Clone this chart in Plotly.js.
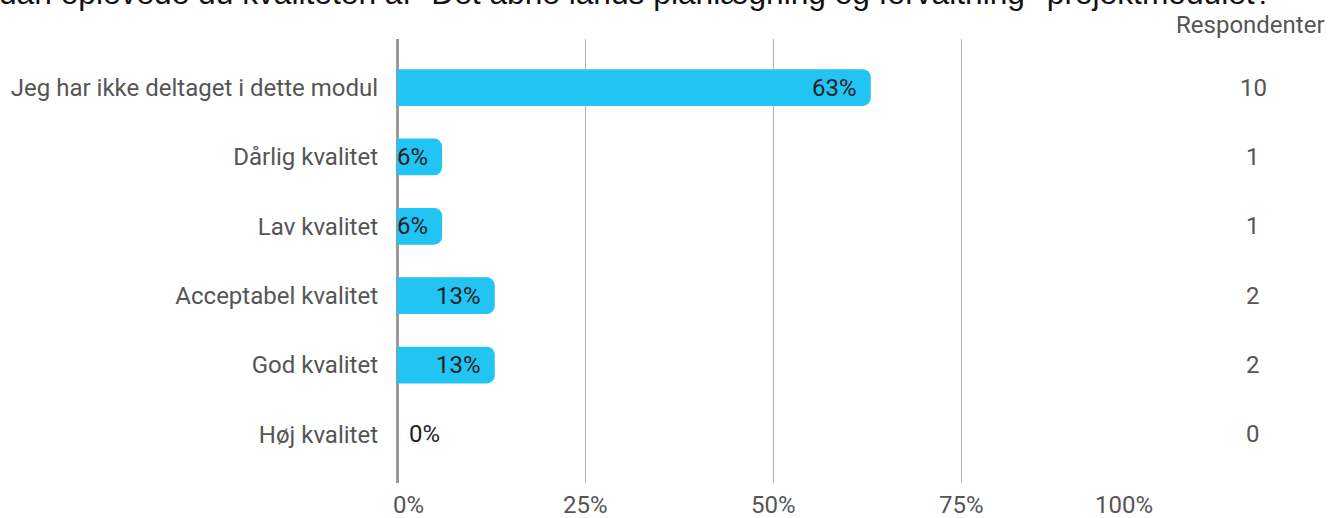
<!DOCTYPE html>
<html>
<head>
<meta charset="utf-8">
<script src="https://cdn.plot.ly/plotly-3.0.1.min.js"></script>
<style>
html,body{margin:0;padding:0;background:#fff;overflow:hidden;}
#chart{width:1329px;height:518px;}
</style>
</head>
<body>
<div id="chart"></div>
<script>
const titleText = 'dan oplevede du kvaliteten af "Det åbne lands planlægning og forvaltning"-projektmodulet?';
const categories = [
  'Jeg har ikke deltaget i dette modul',
  'Dårlig kvalitet',
  'Lav kvalitet',
  'Acceptabel kvalitet',
  'God kvalitet',
  'Høj kvalitet'
];
const percentValues = [63, 6, 6, 13, 13, 0];
const respondents = [10, 1, 1, 2, 2, 0];
const countHeader = 'Respondenter';
const tickValues = [0, 25, 50, 75, 100];
const tickLabels = ['0%', '25%', '50%', '75%', '100%'];

const labelFont = {family: 'Roboto, sans-serif', size: 24, color: '#555555'};
const barTextFont = {family: 'Roboto, sans-serif', size: 24, color: '#222222'};

const annotations = [];

// bar value labels
percentValues.forEach((v, i) => {
  let a = {x: v, y: categories[i], xref: 'x', yref: 'y', text: v + '%', showarrow: false, font: barTextFont, yanchor: 'middle'};
  if (v >= 10) { a.xanchor = 'right'; a.xshift = -12; }
  else if (v > 0) { a.x = 0; a.xanchor = 'left'; a.xshift = -2; }
  else { a.x = 0; a.xanchor = 'left'; a.xshift = 10; }
  annotations.push(a);
});

// respondent counts
respondents.forEach((n, i) => {
  annotations.push({x: 1.1383, y: categories[i], xref: 'paper', yref: 'y', text: String(n), showarrow: false, font: labelFont, xanchor: 'center', yanchor: 'middle'});
});
annotations.push({x: 1.2367, y: 1.031, xref: 'paper', yref: 'paper', text: countHeader, showarrow: false, font: {family: 'Roboto, sans-serif', size: 24, color: '#555555'}, xanchor: 'right', yanchor: 'middle'});

// x tick labels
tickValues.forEach((t, i) => {
  let a = {x: t, y: -0.05, xref: 'x', yref: 'paper', text: tickLabels[i], showarrow: false, font: labelFont, xanchor: 'center', yanchor: 'middle'};
  if (i === 0) { a.xanchor = 'left'; a.xshift = -6; }
  if (i === tickValues.length - 1) { a.xanchor = 'right'; a.xshift = 6; }
  annotations.push(a);
});

// title (clipped at the top-left edge like the reference)
annotations.push({x: -0.532, y: 1.1035, xref: 'paper', yref: 'paper', text: titleText, showarrow: false, font: {family: 'Liberation Sans, Arial, sans-serif', size: 31.7, color: '#111111'}, xanchor: 'left', yanchor: 'middle'});

const trace = {
  type: 'bar',
  orientation: 'h',
  x: percentValues,
  y: categories,
  width: 0.53,
  marker: {color: '#22C4F4', cornerradius: 8},
  hoverinfo: 'none',
  cliponaxis: false
};

const layout = {
  width: 1329,
  height: 518,
  margin: {l: 397, r: 180, t: 39, b: 35, pad: 0},
  paper_bgcolor: '#ffffff',
  plot_bgcolor: '#ffffff',
  showlegend: false,
  xaxis: {
    range: [0, 100],
    tickvals: tickValues,
    showticklabels: false,
    showgrid: true,
    gridcolor: '#b3b3b3',
    gridwidth: 1,
    zeroline: true,
    zerolinecolor: '#9a9a9a',
    zerolinewidth: 3,
    showline: false,
    fixedrange: true
  },
  yaxis: {
    type: 'category',
    categoryorder: 'array',
    categoryarray: categories,
    range: [5.7, -0.7],
    showgrid: false,
    zeroline: false,
    showline: false,
    ticks: '',
    ticklabelstandoff: 18,
    tickfont: labelFont,
    fixedrange: true
  },
  annotations: annotations
};

Plotly.newPlot('chart', [trace], layout, {displayModeBar: false, staticPlot: true});
</script>
</body>
</html>
